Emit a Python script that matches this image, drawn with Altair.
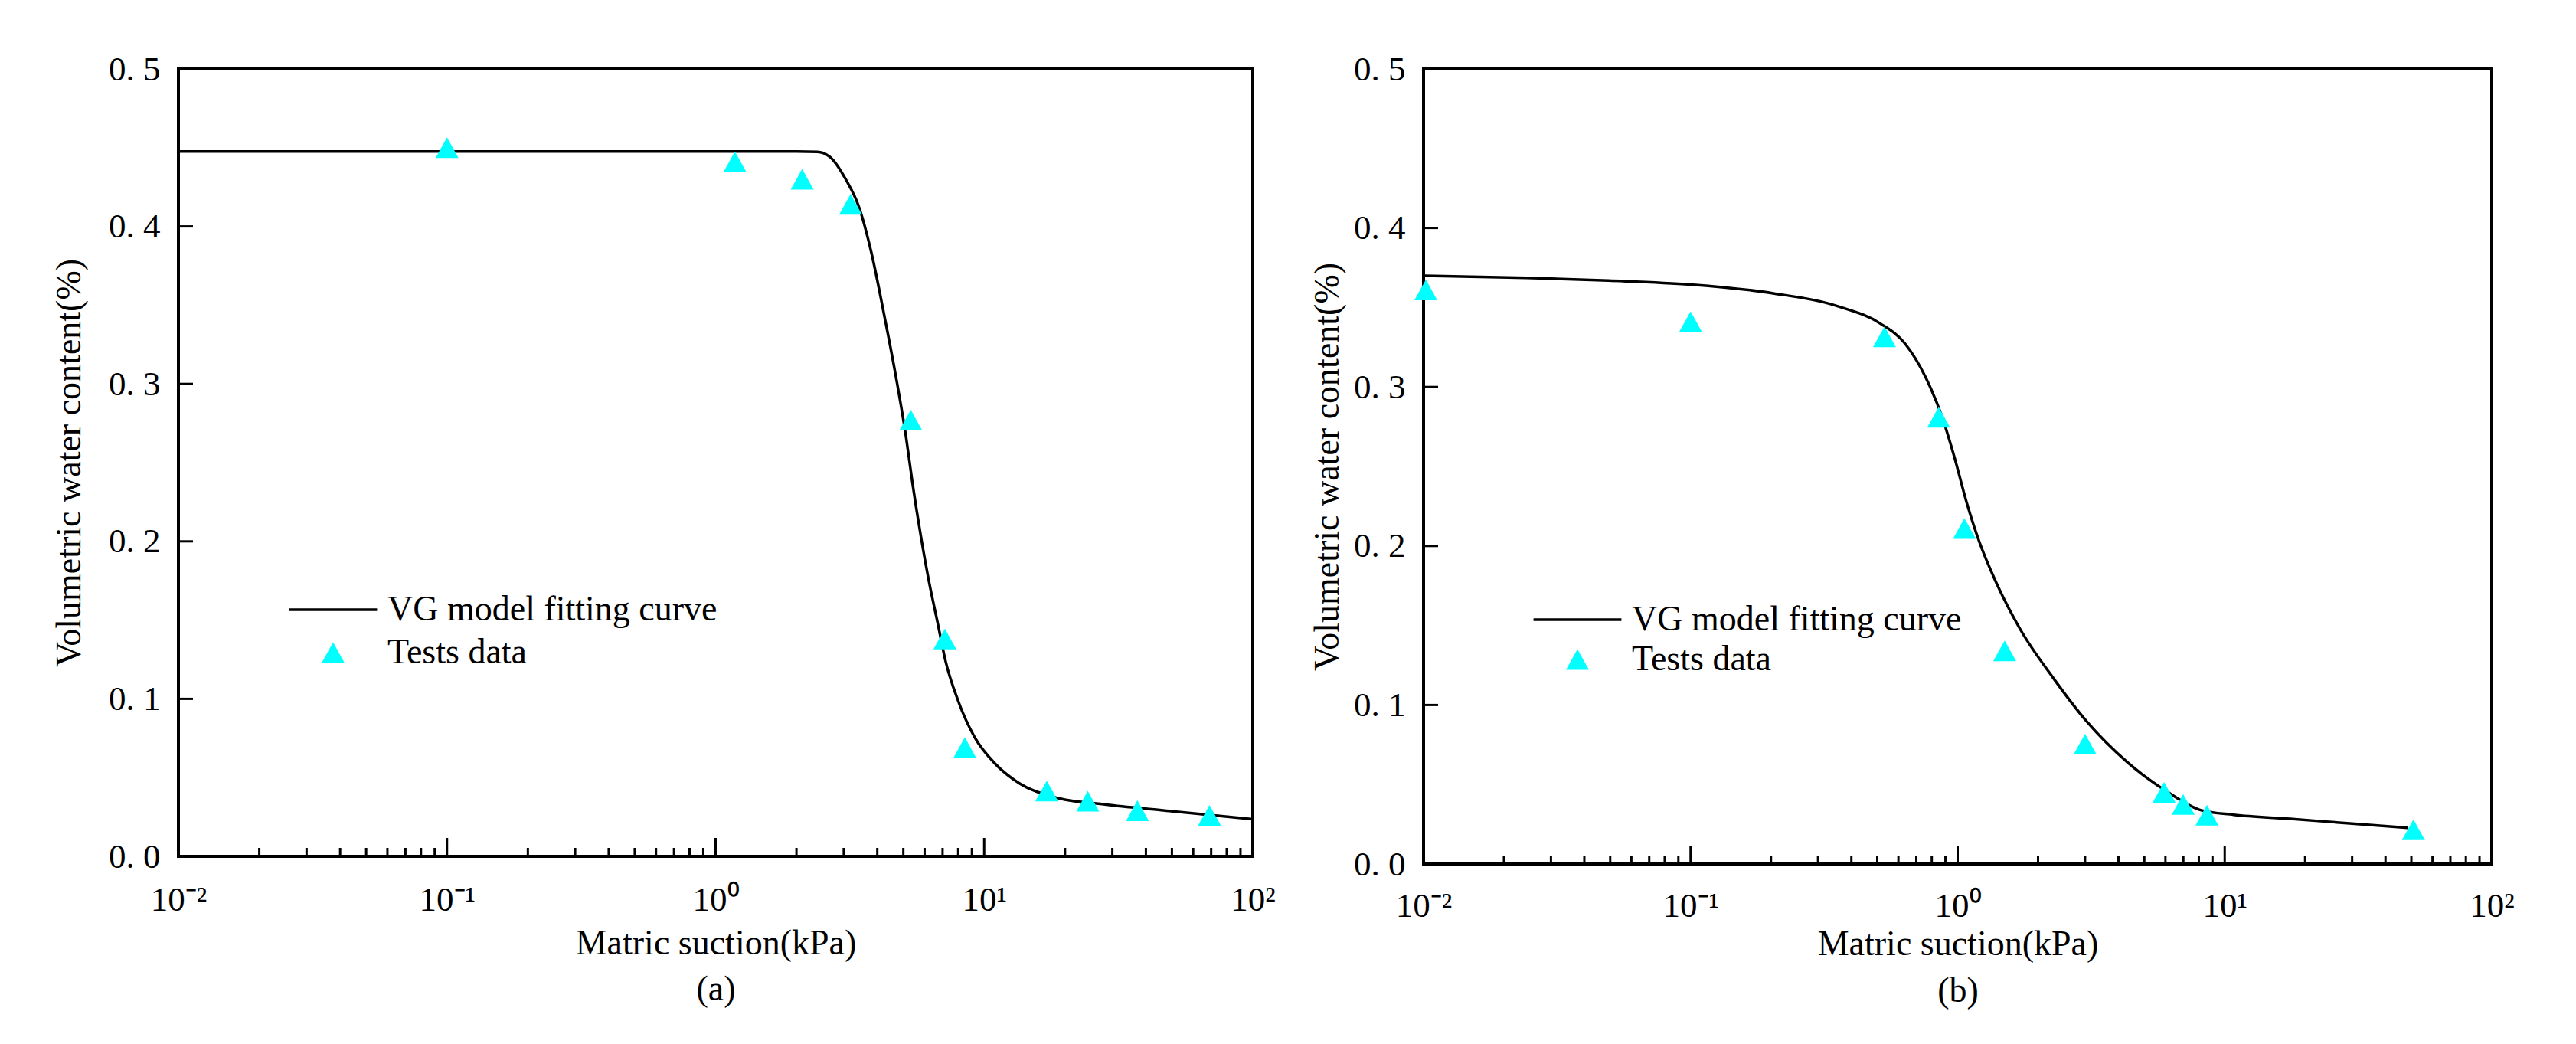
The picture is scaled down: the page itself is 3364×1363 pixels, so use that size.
import altair as alt
import pandas as pd

FONT = "Liberation Serif"
LINE_LABEL = "VG model fitting curve"
TEST_LABEL = "Tests data"

# ---------------- Panel (a) ----------------
a_test_x = [0.10, 1.18, 2.10, 3.18, 5.33, 7.14, 8.47, 17.1, 24.3, 37.2, 69.0]
a_test_y = [0.450, 0.441, 0.430, 0.414, 0.277, 0.138, 0.069, 0.0415, 0.035, 0.029, 0.026]
a_fit_x = [0.01, 0.1, 1.0, 2.0, 2.39, 2.66, 3.06, 3.41, 3.80, 4.22, 4.70, 5.12, 5.41,
           5.81, 6.24, 6.70, 7.19, 8.01, 9.23, 11.0, 13.6, 18.1, 28.5, 45.7, 100]
a_fit_y = [0.4476, 0.4476, 0.4476, 0.4476, 0.4474, 0.4443, 0.4296, 0.4128, 0.3835,
           0.3458, 0.3039, 0.2661, 0.2368, 0.2033, 0.1739, 0.1488, 0.1236, 0.0985,
           0.0754, 0.0587, 0.0461, 0.0377, 0.0328, 0.0293, 0.0236]

# ---------------- Panel (b) ----------------
b_test_x = [0.0102, 0.10, 0.532, 0.849, 1.06, 1.50, 3.00, 5.93, 6.99, 8.58, 50.9]
b_test_y = [0.361, 0.341, 0.3315, 0.281, 0.211, 0.134, 0.0754, 0.045, 0.0375, 0.0307, 0.0216]
b_fit_x = [0.01, 0.0243, 0.0493, 0.1, 0.204, 0.360, 0.513, 0.635, 0.758, 0.875, 0.973,
           1.08, 1.20, 1.39, 1.71, 2.28, 3.03, 4.32, 6.15, 8.17, 10.8, 17.6, 30.0, 48.4]
b_fit_y = [0.370, 0.3686, 0.3669, 0.3644, 0.3589, 0.3505, 0.3399, 0.3273, 0.3062,
           0.281, 0.2557, 0.2275, 0.2035, 0.1775, 0.1480, 0.1170, 0.0900, 0.0640,
           0.0450, 0.0338, 0.0310, 0.0284, 0.0254, 0.0228]

# axis tick positions and labels
x_major = [0.01, 0.1, 1, 10, 100]
x_labels = ["10⁻²", "10⁻¹", "10⁰", "10¹", "10²"]
x_inner_major = [0.1, 1, 10]
x_minor = [m * d for d in [0.01, 0.1, 1, 10] for m in range(2, 10)]
y_major = [0.0, 0.1, 0.2, 0.3, 0.4, 0.5]
y_inner = [0.1, 0.2, 0.3, 0.4]

SYM = 58  # legend/point symbol reference width in px (sqrt of size)
LINE_PATH = "M-1.98,-0.06L1.98,-0.06L1.98,0.06L-1.98,0.06Z"
TRI_PATH = "M0,-0.466L0.517,0.466L-0.517,0.466Z"

label_expr_x = "[" + ",".join("'%s'" % s for s in x_labels) + "][round(log(datum.value)/LN10)+2]"
label_expr_y = "replace(format(datum.value, '.1f'), '.', '. ')"


def panel(fit_x, fit_y, test_x, test_y, caption, w, h, lpad, xtp, lh, ytp,
          legx, legy, rowpad):
    fit = pd.DataFrame({"x": fit_x, "y": fit_y})
    test = pd.DataFrame({"x": test_x, "y": test_y, "series": TEST_LABEL})
    xmin = pd.DataFrame({"x": x_minor})
    xmaj = pd.DataFrame({"x": x_inner_major})
    ytk = pd.DataFrame({"y": y_inner})

    xs = alt.Scale(type="log", domain=[0.01, 100], nice=False)
    ys = alt.Scale(domain=[0, 0.5], nice=False, zero=False)

    xaxis = alt.Axis(values=x_major, labelExpr=label_expr_x, ticks=False, tickSize=0,
                     domain=False, grid=False, labelFont=FONT, labelFontSize=45,
                     labelColor="black", labelPadding=lpad, labelFlush=False,
                     labelOverlap=False, title=["Matric suction(kPa)", caption],
                     titleFont=FONT, titleFontSize=46, titleFontWeight="normal",
                     titleColor="black", titlePadding=xtp, titleLineHeight=lh)
    yaxis = alt.Axis(values=y_major, labelExpr=label_expr_y, ticks=False, tickSize=0,
                     domain=False, grid=False, labelFont=FONT, labelFontSize=45,
                     labelColor="black", labelPadding=24, labelOverlap=False,
                     title="Volumetric water content(%)", titleFont=FONT,
                     titleFontSize=46, titleFontWeight="normal", titleColor="black",
                     titlePadding=ytp)

    curve = alt.Chart(fit).mark_line(color="black", strokeWidth=3.5,
                                     interpolate="monotone").encode(
        x=alt.X("x:Q", scale=xs, axis=xaxis),
        y=alt.Y("y:Q", scale=ys, axis=yaxis),
    )

    leg = alt.Legend(orient="none", legendX=legx, legendY=legy, title=None,
                     labelFont=FONT, labelFontSize=46, labelColor="black",
                     symbolSize=SYM * SYM, symbolStrokeWidth=0, rowPadding=rowpad,
                     labelOffset=42, padding=0, symbolOffset=0, labelLimit=0)
    pts = alt.Chart(test).mark_point(filled=True, size=SYM * SYM, opacity=1).encode(
        x=alt.X("x:Q", scale=xs, axis=xaxis),
        y=alt.Y("y:Q", scale=ys, axis=yaxis),
        color=alt.Color("series:N",
                        scale=alt.Scale(domain=[LINE_LABEL, TEST_LABEL],
                                        range=["black", "#00FFFF"]),
                        legend=leg),
        shape=alt.Shape("series:N",
                        scale=alt.Scale(domain=[LINE_LABEL, TEST_LABEL],
                                        range=[LINE_PATH, TRI_PATH]),
                        legend=leg),
    )

    minor = alt.Chart(xmin).mark_tick(orient="vertical", size=11, thickness=3,
                                      yOffset=-5.5, color="black", opacity=1).encode(
        x=alt.X("x:Q", scale=xs, axis=xaxis),
        y=alt.YDatum(0, scale=ys, axis=yaxis),
    )
    major = alt.Chart(xmaj).mark_tick(orient="vertical", size=24, thickness=3,
                                      yOffset=-12, color="black", opacity=1).encode(
        x=alt.X("x:Q", scale=xs, axis=xaxis),
        y=alt.YDatum(0, scale=ys, axis=yaxis),
    )
    yt = alt.Chart(ytk).mark_tick(orient="horizontal", size=19, thickness=3,
                                  xOffset=9.5, color="black", opacity=1).encode(
        x=alt.XDatum(0.01, scale=xs, axis=xaxis),
        y=alt.Y("y:Q", scale=ys, axis=yaxis),
    )

    return alt.layer(curve, minor, major, yt, pts).properties(width=w, height=h)


left = panel(a_fit_x, a_fit_y, a_test_x, a_test_y, "(a)", 1403, 1028,
             lpad=34, xtp=12, lh=60, ytp=27, legx=173, legy=677, rowpad=4)
right = panel(b_fit_x, b_fit_y, b_test_x, b_test_y, "(b)", 1395, 1038,
              lpad=32, xtp=5, lh=61, ytp=10, legx=172, legy=690, rowpad=0)

chart = alt.hconcat(left, right, spacing=40).resolve_scale(
    color="independent", shape="independent"
).properties(
    padding={"left": 57, "top": 58, "right": 5, "bottom": 5},
    background="white",
).configure_view(stroke="black", strokeWidth=4)

chart.save("out.html", embed_options={"renderer": "svg", "actions": False})
